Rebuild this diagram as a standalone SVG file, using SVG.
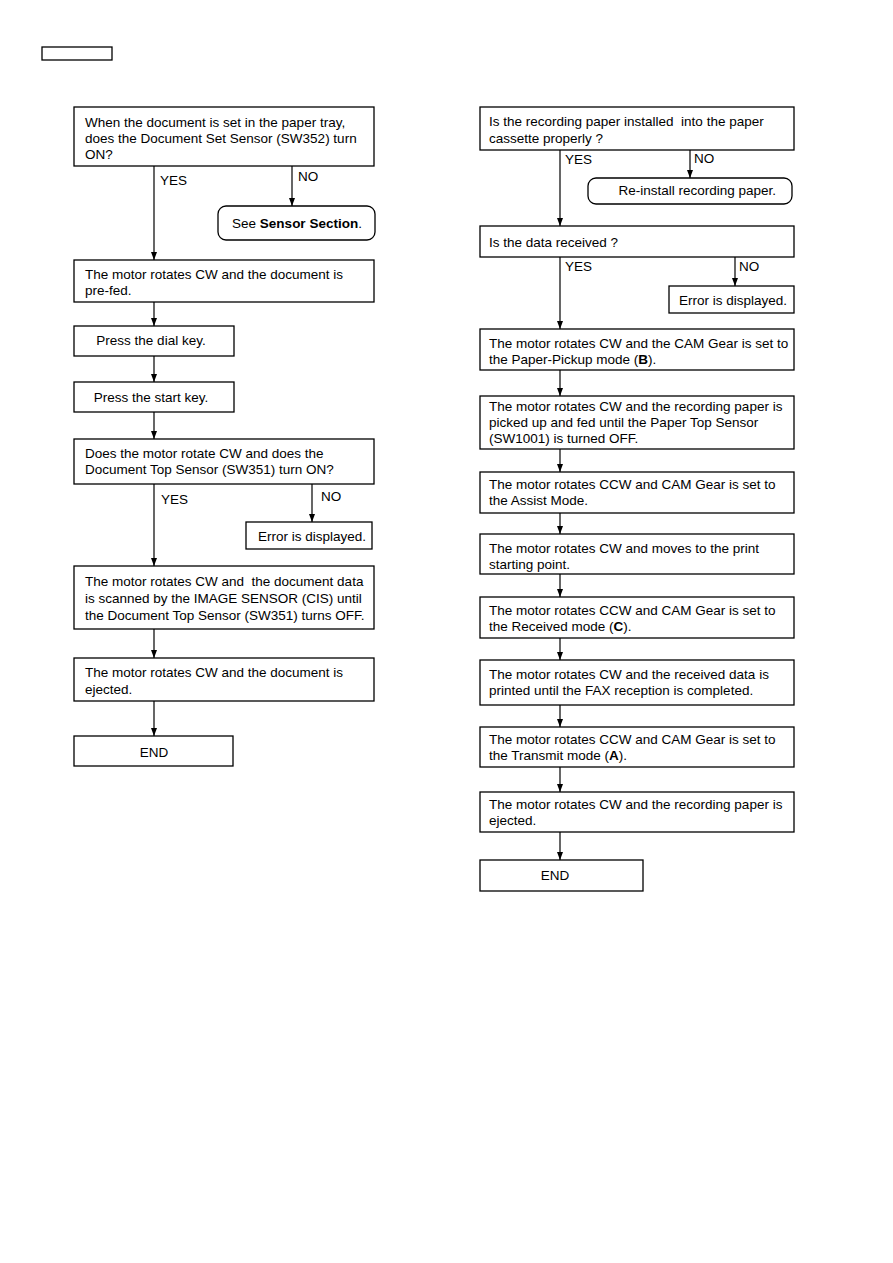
<svg xmlns="http://www.w3.org/2000/svg" width="893" height="1263" viewBox="0 0 893 1263">
<style>
.b{fill:#fff;stroke:#000;stroke-width:1.3}
.t{font-family:"Liberation Sans",Arial,sans-serif;font-size:13.5px;fill:#000}
.c{text-anchor:middle}
.l{fill:none;stroke:#000;stroke-width:1.2}
</style>
<defs>
<marker id="ah" markerUnits="userSpaceOnUse" markerWidth="9" markerHeight="7" refX="8" refY="3" orient="auto">
<path d="M0,0 L8,3 L0,6 z" fill="#000"/>
</marker>
</defs>
<rect x="42" y="47" width="70" height="13" fill="none" stroke="#000" stroke-width="1.3"/>
<g id="connectors">
<line class="l" x1="154" y1="166" x2="154" y2="260" marker-end="url(#ah)"/>
<line class="l" x1="292" y1="166" x2="292" y2="206" marker-end="url(#ah)"/>
<line class="l" x1="154" y1="302" x2="154" y2="326" marker-end="url(#ah)"/>
<line class="l" x1="154" y1="356" x2="154" y2="382" marker-end="url(#ah)"/>
<line class="l" x1="154" y1="412" x2="154" y2="439" marker-end="url(#ah)"/>
<line class="l" x1="154" y1="484" x2="154" y2="566" marker-end="url(#ah)"/>
<line class="l" x1="312" y1="484" x2="312" y2="522" marker-end="url(#ah)"/>
<line class="l" x1="154" y1="629" x2="154" y2="658" marker-end="url(#ah)"/>
<line class="l" x1="154" y1="701" x2="154" y2="736" marker-end="url(#ah)"/>
<line class="l" x1="560" y1="150" x2="560" y2="226" marker-end="url(#ah)"/>
<line class="l" x1="690" y1="150" x2="690" y2="178" marker-end="url(#ah)"/>
<line class="l" x1="560" y1="257" x2="560" y2="329" marker-end="url(#ah)"/>
<line class="l" x1="735" y1="257" x2="735" y2="286" marker-end="url(#ah)"/>
<line class="l" x1="560" y1="370" x2="560" y2="396" marker-end="url(#ah)"/>
<line class="l" x1="560" y1="449" x2="560" y2="472" marker-end="url(#ah)"/>
<line class="l" x1="560" y1="513" x2="560" y2="534" marker-end="url(#ah)"/>
<line class="l" x1="560" y1="574" x2="560" y2="597" marker-end="url(#ah)"/>
<line class="l" x1="560" y1="638" x2="560" y2="660" marker-end="url(#ah)"/>
<line class="l" x1="560" y1="705" x2="560" y2="727" marker-end="url(#ah)"/>
<line class="l" x1="560" y1="767" x2="560" y2="792" marker-end="url(#ah)"/>
<line class="l" x1="560" y1="832" x2="560" y2="860" marker-end="url(#ah)"/>
<text class="t" x="160" y="185">YES</text>
<text class="t" x="298" y="181">NO</text>
<text class="t" x="161" y="504">YES</text>
<text class="t" x="321" y="501">NO</text>
<text class="t" x="565" y="164">YES</text>
<text class="t" x="694" y="163">NO</text>
<text class="t" x="565" y="271">YES</text>
<text class="t" x="739" y="271">NO</text>
</g>
<g id="n1"><rect class="b" x="74" y="107" width="300" height="59"/>
<text class="t" x="85" y="127">When the document is set in the paper tray,</text>
<text class="t" x="85" y="143">does the Document Set Sensor (SW352) turn</text>
<text class="t" x="85" y="159">ON?</text></g>
<g id="n2"><rect class="b" x="218" y="206" width="157" height="34" rx="8"/>
<text class="t c" x="297" y="228">See <tspan font-weight="bold">Sensor Section</tspan>.</text></g>
<g id="n3"><rect class="b" x="74" y="260" width="300" height="42"/>
<text class="t" x="85" y="279">The motor rotates CW and the document is</text>
<text class="t" x="85" y="295">pre-fed.</text></g>
<g id="n4"><rect class="b" x="74" y="326" width="160" height="30"/>
<text class="t c" x="151" y="345">Press the dial key.</text></g>
<g id="n5"><rect class="b" x="74" y="382" width="160" height="30"/>
<text class="t c" x="151" y="402">Press the start key.</text></g>
<g id="n6"><rect class="b" x="74" y="439" width="300" height="45"/>
<text class="t" x="85" y="458">Does the motor rotate CW and does the</text>
<text class="t" x="85" y="474">Document Top Sensor (SW351) turn ON?</text></g>
<g id="n7"><rect class="b" x="246" y="522" width="126" height="27"/>
<text class="t" x="366" y="541" text-anchor="end">Error is displayed.</text></g>
<g id="n8"><rect class="b" x="74" y="566" width="300" height="63"/>
<text class="t" x="85" y="586" xml:space="preserve">The motor rotates CW and  the document data</text>
<text class="t" x="85" y="603">is scanned by the IMAGE SENSOR (CIS) until</text>
<text class="t" x="85" y="620">the Document Top Sensor (SW351) turns OFF.</text></g>
<g id="n9"><rect class="b" x="74" y="658" width="300" height="43"/>
<text class="t" x="85" y="677">The motor rotates CW and the document is</text>
<text class="t" x="85" y="694">ejected.</text></g>
<g id="n10"><rect class="b" x="74" y="736" width="159" height="30"/>
<text class="t c" x="154" y="757">END</text></g>
<g id="r1"><rect class="b" x="480" y="107" width="314" height="43"/>
<text class="t" x="489" y="126" xml:space="preserve">Is the recording paper installed  into the paper</text>
<text class="t" x="489" y="143">cassette properly ?</text></g>
<g id="r2"><rect class="b" x="588" y="178" width="204" height="26" rx="8"/>
<text class="t" x="776" y="195" text-anchor="end">Re-install recording paper.</text></g>
<g id="r3"><rect class="b" x="480" y="226" width="314" height="31"/>
<text class="t" x="489" y="247">Is the data received ?</text></g>
<g id="r4"><rect class="b" x="669" y="286" width="125" height="27"/>
<text class="t" x="787" y="305" text-anchor="end">Error is displayed.</text></g>
<g id="r5"><rect class="b" x="480" y="329" width="314" height="41"/>
<text class="t" x="489" y="348">The motor rotates CW and the CAM Gear is set to</text>
<text class="t" x="489" y="364">the Paper-Pickup mode (<tspan font-weight="bold">B</tspan>).</text></g>
<g id="r6"><rect class="b" x="480" y="396" width="314" height="53"/>
<text class="t" x="489" y="411">The motor rotates CW and the recording paper is</text>
<text class="t" x="489" y="427">picked up and fed until the Paper Top Sensor</text>
<text class="t" x="489" y="443">(SW1001) is turned OFF.</text></g>
<g id="r7"><rect class="b" x="480" y="472" width="314" height="41"/>
<text class="t" x="489" y="489">The motor rotates CCW and CAM Gear is set to</text>
<text class="t" x="489" y="505">the Assist Mode.</text></g>
<g id="r8"><rect class="b" x="480" y="534" width="314" height="40"/>
<text class="t" x="489" y="553">The motor rotates CW and moves to the print</text>
<text class="t" x="489" y="569">starting point.</text></g>
<g id="r9"><rect class="b" x="480" y="597" width="314" height="41"/>
<text class="t" x="489" y="615">The motor rotates CCW and CAM Gear is set to</text>
<text class="t" x="489" y="631">the Received mode (<tspan font-weight="bold">C</tspan>).</text></g>
<g id="r10"><rect class="b" x="480" y="660" width="314" height="45"/>
<text class="t" x="489" y="679">The motor rotates CW and the received data is</text>
<text class="t" x="489" y="695">printed until the FAX reception is completed.</text></g>
<g id="r11"><rect class="b" x="480" y="727" width="314" height="40"/>
<text class="t" x="489" y="744">The motor rotates CCW and CAM Gear is set to</text>
<text class="t" x="489" y="760">the Transmit mode (<tspan font-weight="bold">A</tspan>).</text></g>
<g id="r12"><rect class="b" x="480" y="792" width="314" height="40"/>
<text class="t" x="489" y="809">The motor rotates CW and the recording paper is</text>
<text class="t" x="489" y="825">ejected.</text></g>
<g id="r13"><rect class="b" x="480" y="860" width="163" height="31"/>
<text class="t c" x="555" y="880">END</text></g>
</svg>
